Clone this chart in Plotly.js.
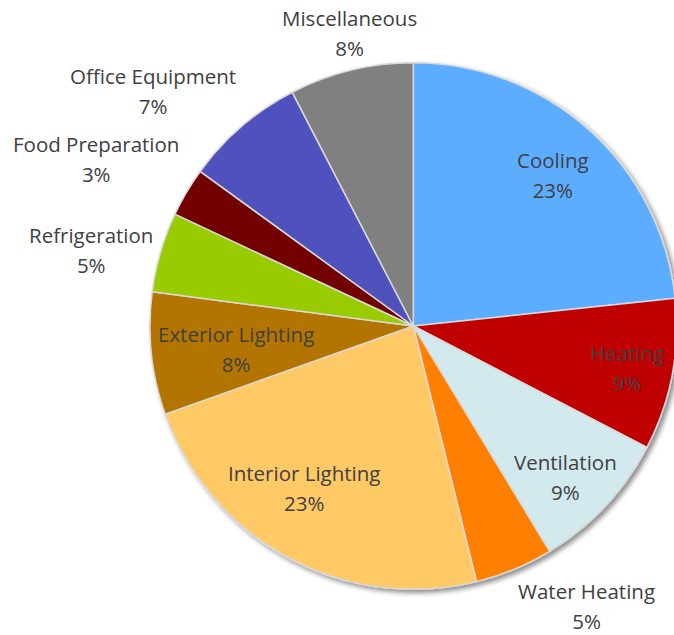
<!DOCTYPE html>
<html>
<head>
<meta charset="utf-8">
<script src="https://cdn.plot.ly/plotly-3.0.1.min.js"></script>
<style>
html, body { margin:0; padding:0; overflow:hidden; background:#fff; }
#chart { width:677px; height:635px; }
</style>
</head>
<body>
<div id="chart"></div>
<script>
// ---- data ----
const categories = ["Cooling", "Heating", "Ventilation", "Water Heating", "Interior Lighting",
                    "Exterior Lighting", "Refrigeration", "Food Preparation", "Office Equipment", "Miscellaneous"];
const values = [23.3, 9.3, 8.7, 4.8, 23.4, 7.5, 4.9, 3.0, 7.4, 7.6];
const colors = ["#5BADFF", "#C00000", "#D2E9EE", "#FF8000", "#FFC966",
                "#B37400", "#99CC00", "#720000", "#4F51BC", "#808080"];

// ---- label layout (not data) ----
const labelInside = [true, true, true, false, true, true, false, false, false, false];
const labelRadius = [0.781, 0.827, 0.814, 0, 0.742, 0.679, 0, 0, 0, 0];
const labelAngleNudge = [0.8, 0.4, 1.6, 0, 5.7, -1.2, 0, 0, 0, 0];

// ---- geometry ----
const W = 677, H = 635;
const cx = 413.3, cy = 326, R = 263.3;
const domX = [(cx - R) / W, (cx + R) / W];
const domY = [1 - (cy + R) / H, 1 - (cy - R) / H];

const total = values.reduce((a, b) => a + b, 0);
const annotations = [];
let cum = 0;
values.forEach((v, i) => {
  const a0 = cum / total * 360;
  cum += v;
  const a1 = cum / total * 360;
  const mid = (a0 + a1) / 2;
  const pct = Math.round(v / total * 100);
  const span = s => '<span style="font-size:20.5px">' + s + '</span>';
  const text = span(categories[i]) + "<br>" + span(pct + "%");
  let ang, r, xa = "center", ya = "middle";
  if (labelInside[i]) {
    ang = (mid + labelAngleNudge[i]) * Math.PI / 180;
    r = labelRadius[i] * R;
  } else {
    ang = mid * Math.PI / 180;
    r = R + 7;
    const s = Math.sin(ang), c = Math.cos(ang);
    xa = Math.abs(s) < 0.26 ? "center" : (s > 0 ? "left" : "right");
    ya = Math.abs(c) < 0.3 ? "middle" : (c > 0 ? "bottom" : "top");
  }
  const px = cx + r * Math.sin(ang);
  const py = cy - r * Math.cos(ang);
  annotations.push({
    xref: "paper", yref: "paper",
    x: px / W, y: 1 - py / H,
    xanchor: xa, yanchor: ya,
    text: text, showarrow: false,
    font: { family: "'Open Sans', sans-serif", size: 23, color: "#404040" },
    align: "center", borderpad: 0
  });
});

const trace = {
  type: "pie",
  labels: categories,
  values: values,
  sort: false,
  direction: "clockwise",
  rotation: 0,
  textinfo: "none",
  hoverinfo: "label+percent",
  marker: { colors: colors, line: { color: "#D9D9D9", width: 1.5 } },
  domain: { x: domX, y: domY },
  showlegend: false
};

const layout = {
  width: W, height: H,
  margin: { l: 0, r: 0, t: 0, b: 0, pad: 0 },
  paper_bgcolor: "#fff",
  plot_bgcolor: "#fff",
  showlegend: false,
  annotations: annotations
};

Plotly.newPlot("chart", [trace], layout, { displayModeBar: false, staticPlot: true }).then(() => {
  const svg = document.querySelector("#chart .main-svg");
  const NS = "http://www.w3.org/2000/svg";
  let defs = svg.querySelector("defs");
  if (!defs) { defs = document.createElementNS(NS, "defs"); svg.insertBefore(defs, svg.firstChild); }
  const f = document.createElementNS(NS, "filter");
  f.setAttribute("id", "pieShadow");
  f.setAttribute("x", "-10%"); f.setAttribute("y", "-10%");
  f.setAttribute("width", "125%"); f.setAttribute("height", "125%");
  const ds = document.createElementNS(NS, "feDropShadow");
  ds.setAttribute("dx", "3"); ds.setAttribute("dy", "3");
  ds.setAttribute("stdDeviation", "2.5");
  ds.setAttribute("flood-color", "#000");
  ds.setAttribute("flood-opacity", "0.45");
  f.appendChild(ds);
  defs.appendChild(f);
  const layer = svg.querySelector(".pielayer");
  if (layer) layer.setAttribute("filter", "url(#pieShadow)");
});
</script>
</body>
</html>
